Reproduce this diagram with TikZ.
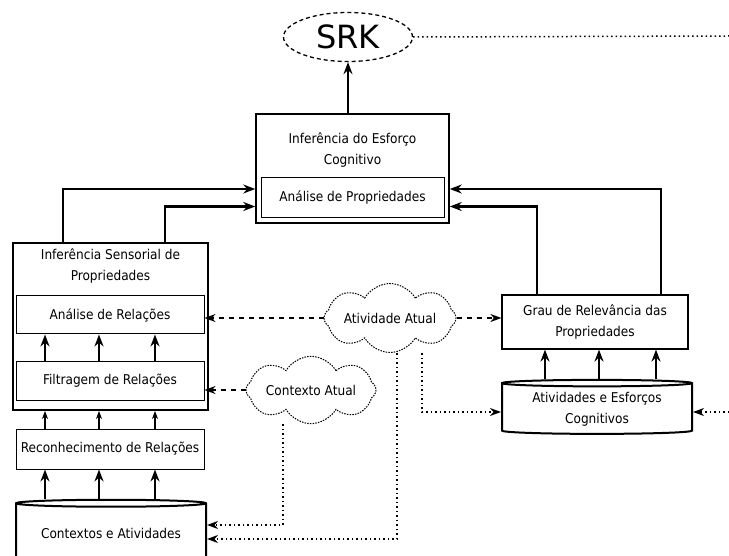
\documentclass[tikz,border=0pt]{standalone}
\usepackage{fontspec}
\setmainfont{DejaVu Sans Condensed}
\newfontfamily\srkfont{DejaVu Sans}
\usepackage{tikz}
\usetikzlibrary{shapes.geometric, shapes.symbols, arrows.meta, positioning}
\tikzset{
    box/.style={rectangle, draw, line width=1pt, minimum width=188pt, minimum height=38pt, text centered, inner sep=0pt},
    bigbox/.style={rectangle, draw, inner sep=0pt},
    title/.style={align=center, inner sep=0pt},
    store/.style={cylinder, shape border rotate=90, aspect=0.05, draw, line width=2pt, align=center, inner sep=0pt},
    context/.style={cloud, cloud puffs=8, cloud puff arc=120, aspect=3, draw, line width=1pt, dash pattern=on 1.5pt off 1.2pt, inner sep=0pt},
    flow/.style={-{Stealth[length=12pt,width=9pt,inset=4pt]}, line width=2.2pt},
    thinflow/.style={-{Stealth[length=8pt,width=6pt,inset=2.5pt]}, line width=1.3pt},
    dashflow/.style={-{Stealth[length=11pt,width=8pt,inset=3.5pt]}, line width=1.3pt, dash pattern=on 5pt off 5pt},
    dotflow/.style={-{Stealth[length=11pt,width=8pt,inset=3.5pt]}, line width=1.5pt, dash pattern=on 1.5pt off 3pt}
}

\begin{document}
\begin{tikzpicture}[x=1pt, y=-1pt, font=\fontsize{13.5pt}{21pt}\selectfont]
    \useasboundingbox (0,0) rectangle (729,556);

    % SRK
    \node[ellipse, draw, line width=1.3pt, dash pattern=on 4pt off 3pt, minimum width=129pt, minimum height=49pt, inner sep=0pt] (srk) at (348,37) {\srkfont\fontsize{32pt}{32pt}\selectfont SRK};
    \coordinate (srkout) at (729,36);
    \draw[line width=1.5pt, dash pattern=on 1.5pt off 3pt] (srk.east) -- (srkout);

    % Cognitive effort inference
    \node[bigbox, line width=1.5pt, minimum width=193pt, minimum height=109pt] (esforco) at (352.5,168.5) {};
    \node[title] (esforcotitle) at (352.5,150) {Inferência do Esforço\\Cognitivo};
    \node[box, minimum width=183pt, minimum height=40pt] (propriedades) at (352.5,198) {Análise de Propriedades};
    \draw[flow] (srk.south |- esforco.north) -- (srk.south);

    % Sensorial inference
    \node[bigbox, line width=2pt, minimum width=195pt, minimum height=167pt] (sensorial) at (110.5,326.5) {};
    \node[title] (sensorialtitle) at (110.5,266) {Inferência Sensorial de\\Propriedades};
    \node[box] (relacoes) at (110,315) {Análise de Relações};
    \node[box] (filtragem) at (110,381) {Filtragem de Relações};
    \node[box, minimum height=40pt] (reconhecimento) at (110,449) {Reconhecimento de Relações};
    \node[store, minimum width=190pt, minimum height=62pt] (contextos) at (111,533) {Contextos e Atividades};

    % Relevance
    \node[box, line width=1.2pt, minimum width=186pt, minimum height=54pt, align=center] (grau) at (595,322) {Grau de Relevância das\\Propriedades};
    \node[store, minimum width=190pt, minimum height=54pt] (atividades) at (597,409) {Atividades e Esforços\\Cognitivos};
    \coordinate (atividadesin) at (729,412);

    % Current activity and context
    \node[context, minimum width=132pt] (atividade) at (390,318) {Atividade Atual};
    \node[context, minimum width=130pt] (contexto) at (311,390) {Contexto Atual};

    % Into the effort inference
    \draw[flow] ([xshift=-47.5pt]sensorial.north) |- ([yshift=-20.5pt]esforco.west);
    \draw[flow] ([xshift=54.5pt]sensorial.north) |- ([yshift=-38pt]esforco.west);
    \draw[flow] ([xshift=66pt]grau.north) |- ([yshift=-20.5pt]esforco.east);
    \draw[flow] ([xshift=-58pt]grau.north) |- ([yshift=-38pt]esforco.east);

    % Vertical flows
    \foreach \dx in {-65,-11,45} {
        \draw[flow] ([xshift=\dx pt]filtragem.north) -- ([xshift=\dx pt]relacoes.south);
        \draw[thinflow] ([xshift=\dx pt]reconhecimento.north) -- ([xshift=\dx pt]reconhecimento.north |- sensorial.south);
        \draw[flow] ([xshift=\dx pt]reconhecimento.south |- contextos.north) -- ([xshift=\dx pt]reconhecimento.south);
    }
    \foreach \dx in {-50,4,61}
        \draw[flow] ([xshift=\dx pt]grau.south |- atividades.north) -- ([xshift=\dx pt]grau.south);

    % Current activity and context links
    \draw[dashflow] (atividade.west) -- (relacoes.east |- atividade.west);
    \draw[dashflow] (atividade.east) -- (grau.west |- atividade.east);
    \draw[dashflow] (contexto.west) -- (filtragem.east |- contexto.west);
    \draw[dotflow] ([xshift=7pt]atividade.south) |- ([yshift=-6pt]contextos.east);
    \draw[dotflow] ([xshift=32pt]atividade.south) |- ([yshift=-3pt]atividades.west);
    \draw[dotflow] ([xshift=-28pt]contexto.south) |- ([yshift=8pt]contextos.east);
    \draw[dotflow] (atividadesin) -- ([yshift=-3pt]atividades.east);
\end{tikzpicture}
\end{document}
